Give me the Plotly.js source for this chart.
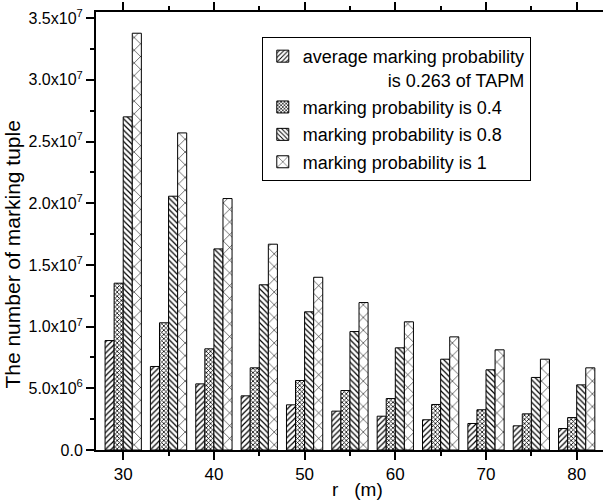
<!DOCTYPE html>
<html>
<head>
<meta charset="utf-8">
<script src="https://cdn.plot.ly/plotly-3.0.1.min.js"></script>
<style>html,body{margin:0;padding:0;background:#fff;overflow:hidden}#chart{width:603px;height:500px}.modebar{opacity:0.02 !important}#ready{position:absolute;left:0;top:0;width:1px;height:1px;overflow:hidden;color:#fff;font-size:1px}</style>
</head>
<body>
<div id="chart"></div>
<div id="ready"></div>
<script>
// Data
const radius = [30, 35, 40, 45, 50, 55, 60, 65, 70, 75, 80];
const tapmAvg = [8.87e6, 6.77e6, 5.36e6, 4.39e6, 3.66e6, 3.15e6, 2.74e6, 2.45e6, 2.15e6, 1.96e6, 1.74e6];
const prob04 = [1.352e7, 1.031e7, 8.20e6, 6.66e6, 5.63e6, 4.82e6, 4.17e6, 3.69e6, 3.26e6, 2.93e6, 2.63e6];
const prob08 = [2.700e7, 2.057e7, 1.630e7, 1.339e7, 1.120e7, 9.60e6, 8.28e6, 7.36e6, 6.50e6, 5.88e6, 5.28e6];
const prob1 = [3.378e7, 2.570e7, 2.038e7, 1.668e7, 1.400e7, 1.195e7, 1.039e7, 9.17e6, 8.12e6, 7.36e6, 6.66e6];
const seriesNames = [
  'average marking probability<br>' + '&nbsp;'.repeat(17) + 'is 0.263 of TAPM',
  'marking probability is 0.4',
  'marking probability is 0.8',
  'marking probability is 1'
];
const yTickVals = [0, 5e6, 1e7, 1.5e7, 2e7, 2.5e7, 3e7, 3.5e7];
const yTickText = ['0.0', '5.0x10<sup>6</sup>', '1.0x10<sup>7</sup>', '1.5x10<sup>7</sup>', '2.0x10<sup>7</sup>', '2.5x10<sup>7</sup>', '3.0x10<sup>7</sup>', '3.5x10<sup>7</sup>'];
const yTitle = 'The number of marking tuple';
const xTitle = 'r&nbsp;&nbsp;&nbsp;(m)';

const FONT = 'Arial, "Liberation Sans", sans-serif';
const patterns = [
  {shape: '/', size: 4, solidity: 0.3},
  {shape: 'x', size: 3, solidity: 0.45},
  {shape: '\\', size: 4, solidity: 0.3},
  {shape: 'x', size: 9, solidity: 0.12}
];
const values = [tapmAvg, prob04, prob08, prob1];
const traces = values.map((v, i) => ({
  type: 'bar', x: radius, y: v, name: seriesNames[i], legendgroup: 'g' + i,
  marker: {color: 'white', line: {color: 'black', width: 1},
    pattern: Object.assign({fgcolor: 'black', bgcolor: 'white', fillmode: 'replace'}, patterns[i])}
}));
const layout = {
  width: 603, height: 500,
  margin: {l: 96, r: 0, t: 12, b: 50},
  paper_bgcolor: 'white', plot_bgcolor: 'white',
  barmode: 'group', bargap: 0.2, bargroupgap: 0,
  font: {family: FONT, size: 17, color: 'black'},
  legend: {x: 0.327, y: 0.943, xanchor: 'left', yanchor: 'top', bordercolor: 'black', borderwidth: 1, bgcolor: 'white',
    font: {family: FONT, size: 18, color: 'black'}, valign: 'top', traceorder: 'grouped', tracegroupgap: 1},
  xaxis: {range: [27, 82.9], showgrid: false, zeroline: false, showline: true, linecolor: '#000000', linewidth: 2,
    tickmode: 'linear', tick0: 30, dtick: 10, ticks: 'outside', ticklen: 8, tickwidth: 2, tickcolor: '#000000', mirror: 'allticks',
    minor: {tick0: 30, dtick: 5, ticks: 'outside', ticklen: 4, tickwidth: 1.5, tickcolor: '#000000', showgrid: false},
    tickfont: {family: FONT, size: 17}, automargin: false,
    title: {text: '&nbsp;&nbsp;&nbsp;' + xTitle, standoff: 0, font: {family: FONT, size: 19, color: 'black'}}},
  yaxis: {range: [0, 3.55e7], showgrid: false, zeroline: false, showline: true, linecolor: '#000000', linewidth: 2,
    tickmode: 'array', tickvals: yTickVals, ticktext: yTickText, ticks: 'outside', ticklen: 8, tickwidth: 2, tickcolor: '#000000', mirror: 'allticks',
    minor: {tick0: 0, dtick: 2.5e6, ticks: 'outside', ticklen: 4, tickwidth: 1.5, tickcolor: '#000000', showgrid: false},
    tickfont: {family: FONT, size: 16}, automargin: false,
    title: {text: yTitle + '&nbsp;'.repeat(8), standoff: 2, font: {family: FONT, size: 21, color: 'black'}}}
};
Plotly.newPlot('chart', traces, layout).then(function () {
  setTimeout(function () {
    document.getElementById('ready').textContent = 'ready';
  }, 150);
});
</script>
</body>
</html>
